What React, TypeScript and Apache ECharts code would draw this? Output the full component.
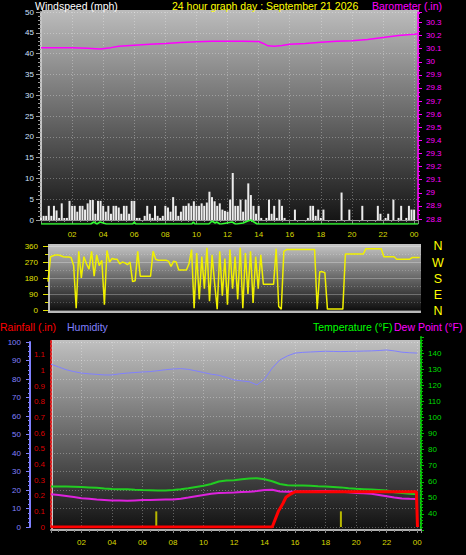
import React, { useEffect, useRef } from 'react';
import * as echarts from 'echarts';

// ---------- data ----------
const xTickLabels = ['00', '02', '04', '06', '08', '10', '12', '14', '16', '18', '20', '22', '00'];

// wind speed (mph), one value every 10 minutes from 00:00
const windSpeed = [
  0.5, 1, 1, 3.4, 1, 3.4, 2.3, 0.5, 4, 0.5,
  0.5, 4.6, 3.4, 3.4, 2, 3.4, 3.4, 2.5, 4, 4.8,
  4.8, 1.5, 4.6, 4.6, 3.4, 2, 3.4, 1.5, 3.4, 3.4,
  3, 1.5, 3.4, 3.4, 1.5, 4.6, 4.6, 0.5, 0.5, 0,
  1, 3.4, 1.5, 0.5, 3.4, 1, 0.5, 1, 3.4, 3,
  2, 5.5, 3.4, 1, 2, 3.4, 3.4, 4, 3.4, 4.5,
  3.4, 3.4, 4, 3.4, 4.2, 6.8, 5.5, 4.5, 3.4, 4,
  2.5, 2.2, 2, 4.9, 11.3, 3.4, 3.4, 4.9, 2, 4.9,
  8.8, 6, 3.4, 1.5, 3.4, 0.5, 0, 0.5, 4.9, 1.5,
  3.4, 0.5, 4.9, 3.4, 0.5, 0, 0, 0, 2.5, 0,
  0, 0, 0, 0.5, 3.4, 3.4, 1, 2.5, 0.5, 2.5,
  0, 0, 0, 0, 0, 0, 6.6, 0, 0, 2.5,
  0, 0, 0, 0, 3.4, 0, 0, 0, 0, 0,
  3.4, 1.5, 0, 0.5, 1.5, 0, 4.9, 0, 0.5, 3.4,
  0, 0.5, 3.4, 2.5, 2.5, 0,
];

// wind direction (degrees), one value every 10 minutes
const windDirection = [
  160, 300, 305, 310, 310, 305, 300, 298, 298, 295,
  250, 10, 330, 180, 300, 260, 230, 330, 190, 310,
  250, 280, 30, 335, 270, 290, 285, 285, 260, 270,
  265, 255, 270, 160, 165, 330, 190, 190, 190, 190,
  190, 330, 285, 280, 280, 280, 280, 275, 245, 275,
  270, 225, 225, 225, 225, 260, 340, 10, 320, 60,
  300, 120, 350, 50, 310, 150, 5, 330, 80, 290,
  30, 340, 120, 300, 60, 350, 10, 320, 90, 330,
  40, 300, 120, 310, 145, 145, 145, 145, 145, 345,
  20, 5, 330, 340, 340, 340, 340, 340, 340, 340,
  340, 340, 340, 340, 340, 5, 215, 215, 210, 5,
  5, 5, 5, 5, 5, 5, 315, 315, 315, 315,
  315, 315, 315, 315, 345, 345, 345, 345, 345, 345,
  345, 300, 300, 300, 300, 300, 285, 285, 285, 285,
  285, 285, 295, 295, 295, 295,
];

const baroHours = [0, 1, 2, 3, 3.8, 4.5, 5, 6, 7, 8, 9, 10, 11, 12, 13, 14, 14.3, 14.6, 15, 15.5, 16, 17, 18, 19, 20, 21, 22, 23, 24, 24.25];
const baroValues = [30.107, 30.107, 30.107, 30.104, 30.098, 30.108, 30.118, 30.126, 30.134, 30.14, 30.148, 30.153, 30.157, 30.157, 30.157, 30.155, 30.14, 30.122, 30.118, 30.125, 30.134, 30.14, 30.149, 30.156, 30.16, 30.17, 30.186, 30.2, 30.21, 30.214];

const bandHours = [0, 3.2, 3.4, 3.6, 3.8, 4.0, 4.2, 5.9, 6.0, 6.1, 9.7, 9.8, 9.9, 10.8, 11.0, 11.2, 11.3, 11.5, 11.6, 12.3, 12.5, 12.6, 13.0, 13.3, 13.5, 13.7, 13.9, 24.25];
const bandValues = [0, 0, 1, 0, 1, 0.5, 0, 0, 1, 0, 0, 1, 0, 0, 1.5, 0.5, 1, 0, 0, 1, 0, 0, 0.5, 1.5, 2, 1, 0, 0];

// half-hourly values 00:00 .. 24:00
const temperature = [57.0, 57.0, 57.0, 56.9, 56.8, 56.5, 56.2, 55.8, 55.5, 55.4, 55.3, 55.0, 54.8, 54.7, 54.6, 54.6, 54.8, 55.3, 56.0, 56.8, 57.5, 58.6, 60.2, 60.8, 61.0, 61.6, 62.0, 62.2, 61.6, 60.3, 58.6, 57.8, 57.7, 57.7, 57.5, 57.2, 57.0, 56.8, 56.5, 56.0, 55.6, 55.4, 55.2, 54.9, 54.5, 53.5, 53.0, 52.6, 52.3];
const dewPoint = [52.3, 51.8, 51.2, 50.5, 49.8, 49.4, 49.0, 48.7, 48.4, 48.3, 48.2, 48.4, 48.6, 48.6, 48.8, 48.9, 49.0, 49.5, 50.2, 51.0, 51.8, 52.6, 53.0, 53.1, 53.3, 53.6, 53.8, 54.2, 54.8, 55.0, 54.0, 53.8, 53.8, 54.0, 54.0, 54.2, 54.2, 54.1, 53.8, 53.4, 53.0, 52.8, 52.5, 51.8, 51.0, 50.2, 49.6, 49.4, 49.3];
const humidity = [88, 86.5, 85, 84, 83.2, 82.8, 82.5, 82.2, 82.2, 82.8, 83.2, 83.5, 83.8, 84, 84.5, 85, 85.4, 85.6, 85.2, 84.4, 83.5, 82.6, 82, 80.8, 79.5, 79, 78.5, 76.8, 80, 85.9, 90.3, 92.5, 94, 94.4, 94.6, 94.8, 95, 94.9, 94.8, 94.9, 95, 95.1, 95.2, 95.4, 95.7, 95.2, 94.5, 94.2, 94];

const rainHours = [0, 14.5, 14.7, 14.9, 15.2, 15.4, 15.7, 16.0, 23.95, 24.02];
const rainValues = [0, 0, 0.05, 0.1, 0.15, 0.19, 0.21, 0.225, 0.225, 0];

const rateHours = [6.9, 19.0];
const rateValues = [0.1, 0.1];

// ---------- helpers ----------
const FONT = '"Liberation Sans", Arial, sans-serif';
const XMAX = 24.25;
const tenMin = (arr: number[]) => arr.map((v, i) => [i / 6, v]);
const halfHour = (arr: number[]) => arr.map((v, i) => [i * 0.5, v]);
const pairs = (h: number[], v: number[]) => h.map((x, i) => [x, v[i]]);
const dotted = { show: true, lineStyle: { color: 'rgba(255,255,255,0.3)', type: [1, 2] as any, width: 1 } };
const hourFmt = (v: number) => (v === 0 || v % 2 !== 0 ? '' : xTickLabels[v / 2] ?? '');

const grad = (c0: string, c1: string) => ({
  type: 'linear', x: 0, y: 0, x2: 0, y2: 1,
  colorStops: [{ offset: 0, color: c0 }, { offset: 1, color: c1 }],
});

const txt = (text: string, x: number, y: number, fill: string, size = 10.5, align = 'left') => ({
  type: 'text', z: 20,
  style: { text, x, y, fill, font: `${size}px ${FONT}`, align, textAlign: align, verticalAlign: 'middle', textVerticalAlign: 'middle' },
});
const vline = (x: number, y1: number, y2: number, color: string, w = 2) => ({
  type: 'line', z: -5, shape: { x1: x, y1, x2: x, y2 }, style: { stroke: color, lineWidth: w },
});
const hline = (y: number, x1: number, x2: number, color: string, w = 2) => ({
  type: 'line', z: -5, shape: { x1, y1: y, x2, y2: y }, style: { stroke: color, lineWidth: w },
});

const hidden = { show: false };
const axisL = (color: string, width: number, type: any = 'solid') => ({
  show: true, onZero: false, lineStyle: { color, width, type },
});

function buildOption() {
  const grids = [
    { left: 41, top: 12, width: 377, height: 208 },   // 0 wind
    { left: 41, top: 12, width: 377, height: 207 },   // 1 baro
    { left: 41, top: 218, width: 377, height: 6 },    // 2 band
    { left: 48, top: 246, width: 373, height: 64 },   // 3 direction
    { left: 51, top: 342, width: 370, height: 185 },  // 4 humidity
    { left: 51, top: 339, width: 370, height: 188 },  // 5 rain
    { left: 51, top: 337, width: 370, height: 193 },  // 6 temperature
  ];
  const xBase = (i: number) => ({ type: 'value', gridIndex: i, min: 0, max: XMAX });
  const xAxis = [
    {
      ...xBase(0), interval: 2,
      axisLine: axisL('#9a9a9a', 1),
      axisTick: { show: true, length: 4, lineStyle: { color: '#8a8a8a' } },
      minorTick: { show: true, splitNumber: 4, length: 2, lineStyle: { color: '#8a8a8a' } },
      axisLabel: { color: '#d8d800', fontSize: 8, fontFamily: FONT, margin: 10, formatter: hourFmt, showMaxLabel: false },
      splitLine: dotted,
    },
    { ...xBase(1), show: false },
    { ...xBase(2), show: false },
    { ...xBase(3), show: false },
    {
      ...xBase(4), interval: 2,
      axisLine: hidden, axisTick: hidden, axisLabel: hidden, splitLine: dotted,
    },
    { ...xBase(5), show: false },
    {
      ...xBase(6), interval: 2,
      axisLine: axisL('#b0b0b0', 2),
      axisTick: { show: true, length: 3, lineStyle: { color: '#8a8a8a' } },
      minorTick: { show: true, splitNumber: 4, length: 2, lineStyle: { color: '#8a8a8a' } },
      axisLabel: { color: '#d8d800', fontSize: 8, fontFamily: FONT, margin: 8, formatter: hourFmt, showMaxLabel: false },
      splitLine: hidden,
    },
  ];
  const yAxis = [
    {
      type: 'value', gridIndex: 0, min: 0, max: 50, interval: 5, position: 'left',
      axisLine: axisL('#c4c4c4', 2),
      axisTick: { show: true, length: 5, lineStyle: { color: '#9a9a9a' } },
      minorTick: { show: true, splitNumber: 5, length: 3, lineStyle: { color: '#9a9a9a' } },
      axisLabel: { color: '#cfe0ff', fontSize: 8, fontFamily: FONT, margin: 7 },
      splitLine: dotted,
    },
    {
      type: 'value', gridIndex: 1, min: 28.8, max: 30.38, interval: 0.1, position: 'right',
      axisLine: axisL('#ff00ff', 1.5),
      axisTick: { show: true, length: 4, lineStyle: { color: '#ff00ff' } },
      minorTick: { show: true, splitNumber: 3, length: 2, lineStyle: { color: '#ff00ff' } },
      axisLabel: { color: '#ff00ff', fontSize: 8, fontFamily: FONT, margin: 8, showMaxLabel: false },
      splitLine: hidden,
    },
    { type: 'value', gridIndex: 2, min: 0, max: 3, show: false },
    {
      type: 'value', gridIndex: 3, min: 0, max: 360, interval: 90, position: 'left',
      axisLine: { show: false, onZero: false },
      axisTick: { show: true, length: 5, lineStyle: { color: '#e0e000' } },
      minorTick: { show: true, splitNumber: 2, length: 3, lineStyle: { color: '#e0e000' } },
      axisLabel: { color: '#e0e000', fontSize: 8, fontFamily: FONT, margin: 10 },
      splitLine: { show: true, lineStyle: { color: 'rgba(255,255,255,0.28)', width: 1 } },
      minorSplitLine: { show: true, lineStyle: { color: 'rgba(255,255,255,0.22)', type: [1, 2], width: 1 } },
    },
    {
      type: 'value', gridIndex: 4, min: 0, max: 100, interval: 10, position: 'left', offset: 21,
      axisLine: axisL('#8080ff', 2),
      axisTick: { show: true, length: 4, lineStyle: { color: '#8080ff' } },
      minorTick: { show: true, splitNumber: 4, length: 2, lineStyle: { color: '#8080ff' } },
      axisLabel: { color: '#8080ff', fontSize: 8, fontFamily: FONT, margin: 9 },
      splitLine: dotted,
    },
    {
      type: 'value', gridIndex: 5, min: 0, max: 1.2, interval: 0.1, position: 'left',
      axisLine: axisL('#e02020', 2, [2, 2]),
      axisTick: hidden,
      axisLabel: { color: '#dd0000', fontSize: 8, fontFamily: FONT, margin: 6, showMaxLabel: false },
      splitLine: hidden,
    },
    {
      type: 'value', gridIndex: 6, min: 30, max: 150, interval: 10, position: 'right',
      axisLine: axisL('#00c000', 2, [2, 2]),
      axisTick: { show: true, length: 3, lineStyle: { color: '#00c000' } },
      minorTick: { show: true, splitNumber: 5, length: 2, lineStyle: { color: '#00c000' } },
      axisLabel: {
        color: '#00dd00', fontSize: 8, fontFamily: FONT, margin: 7,
        formatter: (v: number) => (v <= 30 || v >= 150 ? '' : String(v)),
      },
      splitLine: hidden,
    },
  ];

  const line = (name: string, xi: number, data: any[], color: string, width: number, z = 3) => ({
    name, type: 'line', xAxisIndex: xi, yAxisIndex: xi, data, symbol: 'none', z,
    lineStyle: { color, width }, itemStyle: { color },
  });

  const series = [
    {
      name: 'Windspeed', type: 'bar', xAxisIndex: 0, yAxisIndex: 0, data: tenMin(windSpeed),
      barWidth: 2, itemStyle: { color: '#ececec' }, z: 2,
    },
    line('Barometer', 1, pairs(baroHours, baroValues), '#ff00ff', 1.5),
    line('Band', 2, pairs(bandHours, bandValues), '#33ff33', 1.5),
    line('Direction', 3, tenMin(windDirection), '#f0f000', 1.5),
    line('Humidity', 4, halfHour(humidity), '#8080ff', 1),
    {
      name: 'Rain rate', type: 'bar', xAxisIndex: 5, yAxisIndex: 5, data: pairs(rateHours, rateValues),
      barWidth: 2, itemStyle: { color: '#b8b800' }, z: 2,
    },
    line('Temperature', 6, halfHour(temperature), '#22cc22', 2),
    line('Dew Point', 6, halfHour(dewPoint), '#dd22dd', 2),
    line('Rainfall', 5, pairs(rainHours, rainValues), '#ff0000', 3, 6),
  ];

  const graphic = [
    // panel backgrounds
    { type: 'rect', z: -10, shape: { x: 42, y: 10, width: 377, height: 215 }, style: { fill: grad('#bcbcbc', '#111111') } },
    { type: 'rect', z: -10, shape: { x: 48, y: 244, width: 373, height: 68 }, style: { fill: grad('#c6c6c6', '#0a0a0a') } },
    { type: 'rect', z: -10, shape: { x: 51, y: 340, width: 370, height: 191 }, style: { fill: grad('#c0c0c0', '#101010') } },
    // frame edges
    vline(49, 244, 313, '#b8b8b8'),
    hline(312, 48, 421, '#b8b8b8'),
    vline(52, 340, 531, '#c8c8c8'),
    vline(420.5, 340, 531, '#a8a8a8', 1),
    // titles
    txt('Windspeed (mph)', 35, 5.5, '#ffffff'),
    txt('24 hour graph day : September 21 2026', 172, 5.5, '#ffff00'),
    txt('Barometer (.in)', 372, 5.5, '#ff00ff'),
    txt('Rainfall (.in)', 0, 326.5, '#ff0000'),
    txt('Humidity', 67, 326.5, '#8080ff'),
    txt('Temperature (°F)', 313, 326.5, '#00ff00'),
    txt('Dew Point (°F)', 394, 326.5, '#ff00ff'),
    // compass letters
    txt('N', 438, 246, '#ffff00', 12.5, 'center'),
    txt('W', 438, 262.5, '#ffff00', 12.5, 'center'),
    txt('S', 438, 279, '#ffff00', 12.5, 'center'),
    txt('E', 438, 295, '#ffff00', 12.5, 'center'),
    txt('N', 438, 311, '#ffff00', 12.5, 'center'),
  ];

  return {
    animation: false,
    backgroundColor: '#000000',
    grid: grids,
    xAxis,
    yAxis,
    series,
    graphic,
  };
}

export default function App() {
  const ref = useRef<HTMLDivElement>(null);
  useEffect(() => {
    if (!ref.current) return;
    const chart = echarts.init(ref.current, null, { renderer: 'svg' });
    chart.setOption(buildOption() as any);
    return () => chart.dispose();
  }, []);
  return (
    <div
      ref={ref}
      style={{ position: 'fixed', left: 0, top: 0, width: 466, height: 555, background: '#000' }}
    />
  );
}
